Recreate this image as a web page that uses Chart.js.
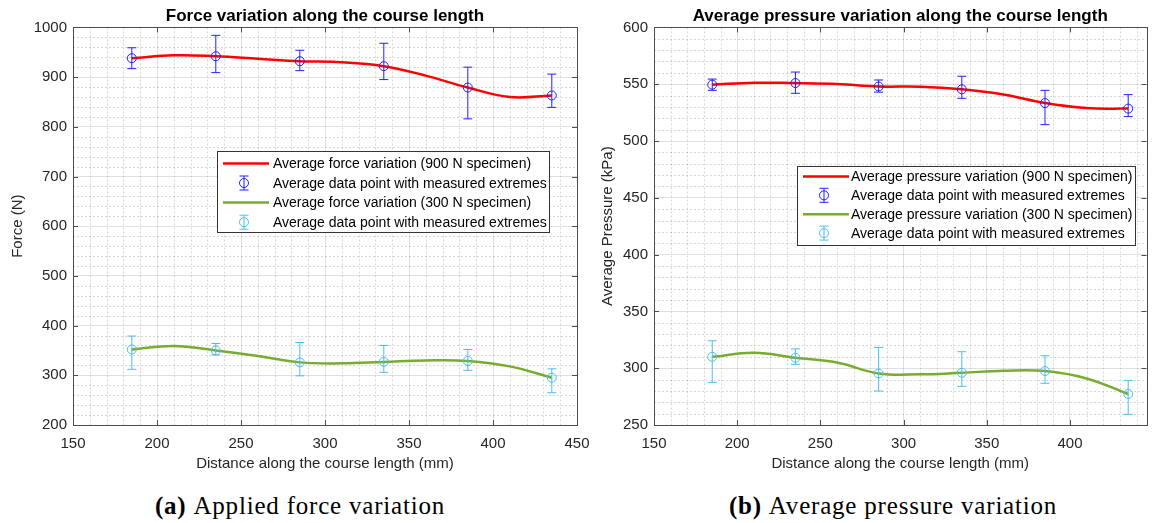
<!DOCTYPE html>
<html>
<head>
<meta charset="utf-8">
<script src="https://cdn.jsdelivr.net/npm/chart.js@4"></script>
<style>
  html, body { margin: 0; padding: 0; background: #fff; overflow: hidden; }
  body { width: 1152px; height: 523px; position: relative; }
  canvas { position: absolute; top: 0; }
  #forceChart { left: 0; }
  #pressureChart { left: 585px; }
  .caption {
    position: absolute; top: 492px; font-family: "Liberation Serif", "DejaVu Serif", serif;
    font-size: 25px; letter-spacing: 0.8px; color: #000; white-space: nowrap; transform: translateX(-50%);
  }
  .caption b { margin-right: 7px; }
</style>
</head>
<body>
<canvas id="forceChart" width="601" height="480"></canvas>
<canvas id="pressureChart" width="567" height="480"></canvas>
<div class="caption" style="left: 300px;"><b>(a)</b>Applied force variation</div>
<div class="caption" style="left: 893px;"><b>(b)</b>Average pressure variation</div>

<script>
// measurement positions along the course (mm)
const distance = [185, 235, 285, 335, 385, 435];

// applied force (N): averages and measured extremes
const force900 = [938, 942, 932, 922, 879, 863];
const force900Low = [917, 909, 913, 895, 816, 839];
const force900High = [959, 984, 954, 968, 920, 906];
const force300 = [352, 350, 326, 327, 329, 295];
const force300Low = [312, 341, 299, 306, 310, 265];
const force300High = [379, 364, 366, 360, 352, 313];

// average pressure (kPa): averages and measured extremes
const pressure900 = [549.6, 551, 548, 545.5, 533.4, 528.5];
const pressure900Low = [544.6, 542, 543, 537.6, 514.4, 521.5];
const pressure900High = [554.5, 560.7, 553.7, 557, 544.6, 540.8];
const pressure300 = [310, 309.2, 295.4, 296, 297.5, 277.3];
const pressure300Low = [287.5, 303.4, 279.9, 284, 286.7, 259.4];
const pressure300High = [324.1, 317, 318.3, 314.5, 311, 289.3];

// fitted variation curves, sampled every 25 mm
const curveX = [185, 210, 235, 260, 285, 310, 335, 360, 385, 410, 435];
const force900Curve = [938, 944, 942, 937, 932, 930, 922, 903, 879, 860, 863];
const force300Curve = [352, 359, 350, 339, 326, 324, 327, 330, 329, 318, 295];
const pressure900Curve = [549.6, 551.3, 551, 550.2, 548, 547.8, 545.5, 541, 533.4, 529, 528.5];
const pressure300Curve = [310, 313.6, 309.2, 305, 295.4, 294.6, 296, 297.7, 297.5, 291, 277.3];

const RED = "#ff0000";
const GREEN = "#77ac30";
const BLUE = "#2020ff";
const CYAN = "#4dbeee";
const FONT = "'Liberation Sans', Arial, Helvetica, sans-serif";

const toXY = (xs, ys) => xs.map((x, i) => ({ x: x, y: ys[i] }));

function curveSet(label, xs, ys, color) {
  return {
    label: label,
    data: toXY(xs, ys),
    showLine: true,
    borderColor: color,
    borderWidth: 2.5,
    tension: 0.4,
    pointRadius: 0,
    order: 2,
    kind: "line",
  };
}

function markerSet(label, ys, lo, hi, color) {
  return {
    label: label,
    data: toXY(distance, ys),
    showLine: false,
    pointStyle: "circle",
    pointRadius: 4.5,
    pointBorderWidth: 1,
    pointBorderColor: color,
    pointBackgroundColor: "rgba(0,0,0,0)",
    errLow: lo,
    errHigh: hi,
    order: 1,
    kind: "errbar",
  };
}

function drawErrSymbol(ctx, cx, cy, color, half, r) {
  ctx.strokeStyle = color;
  ctx.lineWidth = 1;
  ctx.beginPath();
  ctx.moveTo(cx, cy - half);
  ctx.lineTo(cx, cy + half);
  ctx.moveTo(cx - 4.5, cy - half);
  ctx.lineTo(cx + 4.5, cy - half);
  ctx.moveTo(cx - 4.5, cy + half);
  ctx.lineTo(cx + 4.5, cy + half);
  ctx.stroke();
  ctx.beginPath();
  ctx.arc(cx, cy, r, 0, Math.PI * 2);
  ctx.stroke();
}

// minor grid, error bars, boxed axes with inward ticks, and the in-plot legend
const matlabAxes = {
  id: "matlabAxes",
  beforeDatasetsDraw(chart, args, opts) {
    const { ctx, chartArea: a, scales } = chart;
    const x = scales.x, y = scales.y;
    ctx.save();
    ctx.strokeStyle = "rgba(0,0,0,0.16)";
    ctx.lineWidth = 1;
    ctx.setLineDash([2, 2]);
    ctx.beginPath();
    for (let v = x.min + opts.xMinor; v < x.max; v += opts.xMinor) {
      if (v % x.options.ticks.stepSize === 0) continue;
      const px = Math.round(x.getPixelForValue(v)) + 0.5;
      ctx.moveTo(px, a.top);
      ctx.lineTo(px, a.bottom);
    }
    for (let v = y.min + opts.yMinor; v < y.max; v += opts.yMinor) {
      if (v % y.options.ticks.stepSize === 0) continue;
      const py = Math.round(y.getPixelForValue(v)) + 0.5;
      ctx.moveTo(a.left, py);
      ctx.lineTo(a.right, py);
    }
    ctx.stroke();
    ctx.restore();
  },
  afterDatasetsDraw(chart) {
    const { ctx, scales } = chart;
    ctx.save();
    chart.data.datasets.forEach((ds, i) => {
      if (!ds.errLow) return;
      const meta = chart.getDatasetMeta(i);
      ctx.strokeStyle = ds.pointBorderColor;
      ctx.lineWidth = 1;
      meta.data.forEach((pt, j) => {
        const yl = scales.y.getPixelForValue(ds.errLow[j]);
        const yh = scales.y.getPixelForValue(ds.errHigh[j]);
        ctx.beginPath();
        ctx.moveTo(pt.x, yh);
        ctx.lineTo(pt.x, yl);
        ctx.moveTo(pt.x - 4.5, yh);
        ctx.lineTo(pt.x + 4.5, yh);
        ctx.moveTo(pt.x - 4.5, yl);
        ctx.lineTo(pt.x + 4.5, yl);
        ctx.stroke();
      });
    });
    ctx.restore();
  },
  afterDraw(chart, args, opts) {
    const { ctx, chartArea: a, scales } = chart;
    const x = scales.x, y = scales.y;
    ctx.save();
    ctx.strokeStyle = "#4d4d4d";
    ctx.lineWidth = 1;
    ctx.strokeRect(Math.round(a.left) + 0.5, Math.round(a.top) + 0.5,
      Math.round(a.width), Math.round(a.height));
    ctx.beginPath();
    x.ticks.forEach((t) => {
      const px = Math.round(x.getPixelForValue(t.value)) + 0.5;
      ctx.moveTo(px, a.bottom);
      ctx.lineTo(px, a.bottom - 5);
      ctx.moveTo(px, a.top);
      ctx.lineTo(px, a.top + 5);
    });
    y.ticks.forEach((t) => {
      const py = Math.round(y.getPixelForValue(t.value)) + 0.5;
      ctx.moveTo(a.left, py);
      ctx.lineTo(a.left + 5, py);
      ctx.moveTo(a.right, py);
      ctx.lineTo(a.right - 5, py);
    });
    ctx.stroke();

    // legend
    const L = opts.legend;
    const bx = a.left + L.left, by = a.top + L.top;
    ctx.fillStyle = "#fff";
    ctx.fillRect(bx, by, L.width, L.height);
    ctx.strokeStyle = "#333";
    ctx.strokeRect(Math.round(bx) + 0.5, Math.round(by) + 0.5, L.width, L.height);
    ctx.font = "14px " + FONT;
    ctx.textBaseline = "middle";
    ctx.textAlign = "left";
    chart.data.datasets.forEach((ds, i) => {
      const cy = by + L.firstRow + i * L.rowGap;
      if (ds.kind === "line") {
        ctx.strokeStyle = ds.borderColor;
        ctx.lineWidth = 2.5;
        ctx.beginPath();
        ctx.moveTo(bx + 6, cy);
        ctx.lineTo(bx + 52, cy);
        ctx.stroke();
      } else {
        drawErrSymbol(ctx, bx + 27, cy, ds.pointBorderColor, 7, 4.5);
      }
      ctx.fillStyle = "#000";
      ctx.fillText(ds.label, bx + L.textLeft, cy + 1);
    });
    ctx.restore();
  },
};

function makeChart(id, cfg) {
  return new Chart(document.getElementById(id), {
    type: "scatter",
    data: { datasets: cfg.datasets },
    plugins: [matlabAxes],
    options: {
      responsive: false,
      animation: false,
      devicePixelRatio: 1,
      layout: { padding: { left: 0, right: cfg.padRight, top: 0, bottom: 0 } },
      plugins: {
        legend: { display: false },
        tooltip: { enabled: false },
        title: {
          display: true,
          fullSize: false,
          text: cfg.title,
          color: "#000",
          font: { family: FONT, size: 17, weight: "bold" },
          padding: { top: 6, bottom: 1 },
        },
        matlabAxes: { xMinor: 10, yMinor: cfg.yMinor, legend: cfg.legend },
      },
      scales: {
        x: {
          type: "linear",
          min: cfg.xMin,
          max: cfg.xMax,
          afterFit: (s) => { s.height = 55; },
          ticks: {
            stepSize: 50, includeBounds: false, color: "#262626", padding: 10,
            font: { family: FONT, size: 15 }, callback: (v) => String(v),
          },
          grid: { color: "rgba(0,0,0,0.12)", drawTicks: false },
          border: { display: false },
          title: {
            display: true,
            text: "Distance along the course length (mm)",
            color: "#262626",
            font: { family: FONT, size: 15 },
            padding: { top: 0, bottom: 7 },
          },
        },
        y: {
          type: "linear",
          min: cfg.yMin,
          max: cfg.yMax,
          afterFit: (s) => { s.width = cfg.yWidth; },
          ticks: {
            stepSize: cfg.yStep, color: "#262626", padding: 6,
            font: { family: FONT, size: 15 }, callback: (v) => String(v),
          },
          grid: { color: "rgba(0,0,0,0.12)", drawTicks: false },
          border: { display: false },
          title: {
            display: true,
            text: cfg.yTitle,
            color: "#262626",
            font: { family: FONT, size: 15 },
            padding: { top: cfg.yTitlePad, bottom: 0 },
          },
        },
      },
    },
  });
}

makeChart("forceChart", {
  title: "Force variation along the course length",
  yTitle: "Force (N)",
  xMin: 150, xMax: 450,
  yMin: 200, yMax: 1000, yStep: 100, yMinor: 20,
  yWidth: 73, yTitlePad: 9, padRight: 24,
  legend: { left: 144, top: 124, width: 332, height: 81, firstRow: 12, rowGap: 19.6, textLeft: 56 },
  datasets: [
    curveSet("Average force variation (900 N specimen)", curveX, force900Curve, RED),
    markerSet("Average data point with measured extremes", force900, force900Low, force900High, BLUE),
    curveSet("Average force variation (300 N specimen)", curveX, force300Curve, GREEN),
    markerSet("Average data point with measured extremes", force300, force300Low, force300High, CYAN),
  ],
});

makeChart("pressureChart", {
  title: "Average pressure variation along the course length",
  yTitle: "Average Pressure (kPa)",
  xMin: 150, xMax: 446,
  yMin: 250, yMax: 600, yStep: 50, yMinor: 10,
  yWidth: 69, yTitlePad: 14, padRight: 0,
  legend: { left: 143, top: 139, width: 338, height: 79, firstRow: 10, rowGap: 18.9, textLeft: 54 },
  datasets: [
    curveSet("Average pressure variation (900 N specimen)", curveX, pressure900Curve, RED),
    markerSet("Average data point with measured extremes", pressure900, pressure900Low, pressure900High, BLUE),
    curveSet("Average pressure variation (300 N specimen)", curveX, pressure300Curve, GREEN),
    markerSet("Average data point with measured extremes", pressure300, pressure300Low, pressure300High, CYAN),
  ],
});
</script>
</body>
</html>
